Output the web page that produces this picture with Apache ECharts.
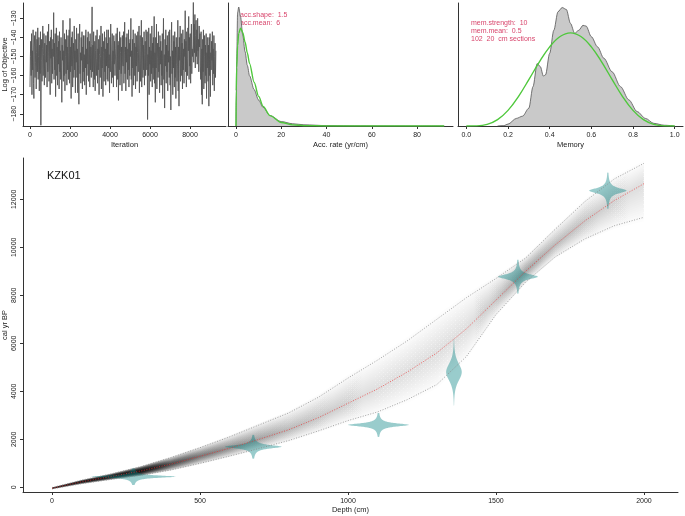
<!DOCTYPE html>
<html><head><meta charset="utf-8">
<script src="https://cdn.jsdelivr.net/npm/echarts@6/dist/echarts.min.js"></script>
<style>html,body{margin:0;padding:0;background:#fff}#c{width:685px;height:516px}</style>
</head><body><div id="c"></div>
<script>
// ---------- data ----------
const iterTicks = [0, 2000, 4000, 6000, 8000];
const objTicks = [-180, -170, -160, -150, -140, -130];
const traceStep = 19.4;
const trace = [
-166,-150,-142,-160,-138,-170,-147,-157,-136,-164,-172,-145,-139,-161,-153,-137,-167,-148,-141,-158,
-135,-162,-150,-140,-168,-144,-159,-137,-186,-152,-141,-163,-146,-134,-160,-149,-138,-165,-143,-156,
-161,-139,-153,-144,-166,-137,-158,-148,-133,-163,-142,-155,-170,-140,-151,-136,-164,-146,-159,-141,
-150,-127,-162,-143,-157,-138,-171,-149,-135,-160,-145,-165,-139,-154,-142,-167,-137,-158,-147,-162,
-140,-156,-174,-144,-152,-131,-163,-147,-160,-138,-168,-150,-141,-159,-136,-165,-145,-157,-139,-162,
-148,-136,-164,-130,-158,-145,-172,-140,-155,-137,-166,-149,-143,-161,-134,-157,-147,-169,-141,-153,
-135,-161,-146,-169,-138,-156,-175,-143,-133,-159,-148,-164,-140,-152,-137,-167,-145,-158,-139,-163,
-149,-165,-139,-156,-136,-170,-146,-160,-140,-154,-137,-163,-150,-142,-166,-138,-157,-145,-161,-143,
-124,-158,-144,-166,-137,-153,-162,-142,-168,-147,-139,-160,-151,-136,-164,-146,-157,-141,-170,-149,
-139,-161,-150,-134,-167,-145,-156,-138,-171,-148,-142,-163,-137,-158,-146,-165,-140,-155,-136,-162,
-143,-163,-136,-156,-149,-169,-140,-158,-133,-152,-164,-145,-138,-161,-147,-166,-139,-154,-142,-160,
-161,-146,-138,-166,-150,-135,-162,-144,-173,-142,-157,-137,-165,-148,-140,-159,-145,-168,-139,-153,
-155,-137,-164,-148,-132,-159,-145,-168,-140,-153,-138,-162,-146,-157,-136,-166,-143,-160,-141,-150,
-130,-162,-147,-171,-141,-156,-136,-165,-150,-143,-160,-138,-167,-145,-155,-139,-163,-148,-137,-158,
-158,-134,-169,-146,-139,-163,-152,-131,-166,-148,-140,-161,-144,-157,-137,-165,-149,-142,-160,-136,
-141,-157,-137,-183,-149,-160,-135,-170,-145,-154,-138,-163,-147,-159,-134,-166,-143,-156,-140,-162,
-129,-164,-148,-174,-140,-156,-133,-167,-151,-143,-161,-137,-158,-145,-169,-139,-154,-142,-165,-147,
-160,-138,-172,-146,-130,-162,-149,-177,-141,-155,-136,-164,-144,-158,-139,-168,-147,-153,-137,-161,
-136,-165,-150,-178,-143,-132,-159,-147,-170,-139,-156,-142,-166,-137,-161,-145,-172,-140,-154,-163,
-155,-131,-168,-145,-176,-140,-152,-134,-163,-148,-138,-160,-143,-167,-136,-157,-146,-164,-141,-150,
-126,-158,-142,-166,-137,-151,-160,-135,-147,-129,-162,-140,-155,-138,-164,-144,-133,-159,-146,-150,
-144,-121,-153,-133,-148,-128,-156,-139,-131,-150,-136,-154,-130,-147,-141,-158,-134,-145,-138,-155,
-162,-137,-170,-146,-175,-141,-158,-136,-167,-150,-139,-164,-144,-160,-138,-172,-148,-156,-140,-163,
-144,-176,-140,-160,-138,-171,-148,-157,-142,-152,-137,-165,-146,-159,-139,-168,-150,-143,-161,-147
];

const accTicks = [0, 20, 40, 60, 80];
const accX     = [0, 0.1, 0.3, 0.7, 1.2, 2, 3, 4, 5, 6, 8, 10, 12, 15, 20, 25, 30, 40, 50, 60, 70, 80, 92];
const accPost  = [0, 0.03, 0.08, 0.14, 0.147, 0.135, 0.112, 0.092, 0.075, 0.062, 0.045, 0.032, 0.023, 0.013, 0.0055, 0.0028, 0.0015, 0.0005, 0.0002, 0.0001, 0.00005, 0.00002, 0];
const accPrior = [0, 0.0435, 0.0717, 0.0991, 0.1145, 0.121, 0.1154, 0.1038, 0.0904, 0.0771, 0.054, 0.0366, 0.0243, 0.0128, 0.0043, 0.0014, 0.0004, 0.00004, 0, 0, 0, 0, 0];

const memTicks = [0, 0.2, 0.4, 0.6, 0.8, 1.0];
const memX    = [0.15,0.18,0.2,0.24,0.27,0.3,0.32,0.34,0.355,0.37,0.38,0.4,0.42,0.44,0.46,0.48,0.5,0.52,0.54,0.56,0.575,0.6,0.63,0.66,0.7,0.74,0.78,0.82,0.86,0.9,0.95,1.0];
const memPost = [0,0.01,0.05,0.2,0.26,0.47,1.04,1.65,1.57,1.32,1.35,1.92,2.53,3.02,3.13,3.08,2.71,2.45,2.53,2.66,2.64,2.36,2.09,1.79,1.43,1.04,0.69,0.38,0.2,0.07,0.02,0];
const memPriorX = [0,0.05,0.1,0.15,0.2,0.25,0.3,0.35,0.4,0.45,0.5,0.55,0.6,0.65,0.7,0.75,0.8,0.85,0.9,0.95,1.0];
const memPrior  = [0,0.0032,0.0413,0.1665,0.4129,0.7787,1.2252,1.687,2.09,2.364,2.461,2.364,2.09,1.687,1.2252,0.7787,0.4129,0.1665,0.0413,0.0032,0];

const depthTicks = [0, 500, 1000, 1500, 2000];
const ageTicks = [0, 2000, 4000, 6000, 8000, 10000, 12000];
const depths    = [0,100,200,300,400,500,600,700,800,900,1000,1100,1200,1300,1400,1500,1600,1700,1800,1900,2000];
const ageMedian = [-40,230,450,680,960,1290,1630,2000,2400,2900,3500,4100,4800,5600,6600,7800,9000,10100,11100,11950,12650];
const ageLow    = [-70,150,330,500,720,1000,1300,1620,1950,2350,2780,3140,3650,4280,5450,7200,8550,9600,10350,10900,11250];
const ageHigh   = [-10,300,560,860,1230,1650,2100,2600,3100,3750,4550,5300,6100,7000,7900,8700,9550,10750,11900,12850,13500];

const dateDepth = [275, 680, 1103, 1358, 1574, 1878];
const dateAge   = [445, 1690, 2600, 4800, 8775, 12360];
const dateSigma = [59, 88, 82, 380, 125, 133];
const dateNu    = [1, 1, 1, 5, 1, 1];
const dateTail  = [350, 500, 500, 1400, 710, 760];
const dateArea  = 26400;

// ---------- helpers ----------
const tConst = {1: 0.31831, 2: 0.35355, 3: 0.36755, 4: 0.375, 5: 0.37961};
const FONT = 'Liberation Sans, Arial, sans-serif';
const lbl = {fontSize: 7, color: '#222', fontFamily: FONT};
const axLine = {show: true, onZero: false, lineStyle: {color: '#333', width: 1}};
const plain = v => String(v);
const minus = v => (v < 0 ? '\u2212' : '') + Math.abs(v);

const NLEV = 16;
const levels = [];
for (let j = 1; j <= NLEV; j++) levels.push([j]);

function bandItem(params, api) {
  const frac = 1.12 * (params.dataIndex + 1) / NLEV;
  const up = [], lo = [];
  const stops = [];
  const x0 = api.coord([depths[0], 0])[0];
  const x1 = api.coord([depths[depths.length - 1], 0])[0];
  for (let i = 0; i < depths.length; i++) {
    const d = depths[i];
    const hiA = ageMedian[i] + frac * (ageHigh[i] - ageMedian[i]);
    const loA = ageMedian[i] - frac * (ageMedian[i] - ageLow[i]);
    up.push(api.coord([d, hiA]));
    lo.push(api.coord([d, loA]));
    const wpx = Math.abs(api.coord([d, ageHigh[i]])[1] - api.coord([d, ageLow[i]])[1]);
    const D = Math.min(0.93, Math.pow(9 / Math.max(wpx, 1), 1.1));
    const a = 1 - Math.pow(1 - D, 1 / NLEV);
    stops.push({offset: (up[i][0] - x0) / (x1 - x0), color: 'rgba(0,0,0,' + a.toFixed(4) + ')'});
  }
  const pts = up.concat(lo.reverse());
  return {
    type: 'polygon',
    shape: {points: pts},
    style: {fill: {type: 'linear', x: x0, y: 0, x2: x1, y2: 0, global: true, colorStops: stops}, stroke: null}
  };
}

function dateItem(params, api) {
  const k = params.dataIndex;
  const d = dateDepth[k], mu = dateAge[k], s = dateSigma[k], nu = dateNu[k], ext = dateTail[k];
  const M = 160;
  const right = [], left = [];
  for (let m = 0; m <= M; m++) {
    const a = mu - ext + 2 * ext * m / M;
    const x = (a - mu) / s;
    let w = dateArea * tConst[nu] * Math.pow(1 + x * x / nu, -(nu + 1) / 2) / s;
    if (m === 0 || m === M) w = 0;
    right.push(api.coord([d + w, a]));
    left.push(api.coord([d - w, a]));
  }
  return {
    type: 'polygon',
    shape: {points: right.concat(left.reverse())},
    style: {fill: 'rgba(0,128,128,0.40)', stroke: null}
  };
}

function gridAt(left, top, width, height) {
  return {left: left, top: top, width: width, height: height, containLabel: false, outerBoundsMode: 'none'};
}
function nameStyle() { return {fontSize: 7.5, color: '#222', fontFamily: FONT}; }

// ---------- chart ----------
const chart = echarts.init(document.getElementById('c'), null, {renderer: 'canvas'});
chart.setOption({
  animation: false,
  backgroundColor: '#fff',
  grid: [
    gridAt(23, 3, 203, 123),
    gridAt(228, 3, 225, 123),
    gridAt(458, 3, 225, 123),
    gridAt(23, 158, 655, 334)
  ],
  xAxis: [
    {gridIndex: 0, type: 'value', min: -350, max: 9800, axisLine: axLine,
     axisTick: {show: true, length: 3, customValues: iterTicks, lineStyle: {color: '#333'}},
     axisLabel: Object.assign({customValues: iterTicks, margin: 6, formatter: plain}, lbl), splitLine: {show: false},
     name: 'Iteration', nameLocation: 'middle', nameGap: 15, nameMoveOverlap: false, nameTextStyle: nameStyle()},
    {gridIndex: 1, type: 'value', min: -3.54, max: 95.9, axisLine: axLine,
     axisTick: {show: true, length: 3, customValues: accTicks, lineStyle: {color: '#333'}},
     axisLabel: Object.assign({customValues: accTicks, margin: 6, formatter: plain}, lbl), splitLine: {show: false},
     name: 'Acc. rate (yr/cm)', nameLocation: 'middle', nameGap: 15, nameMoveOverlap: false, nameTextStyle: nameStyle()},
    {gridIndex: 2, type: 'value', min: -0.04, max: 1.04, axisLine: axLine,
     axisTick: {show: true, length: 3, customValues: memTicks, lineStyle: {color: '#333'}},
     axisLabel: Object.assign({customValues: memTicks, margin: 6, formatter: v => (+v).toFixed(1)}, lbl), splitLine: {show: false},
     name: 'Memory', nameLocation: 'middle', nameGap: 15, nameMoveOverlap: false, nameTextStyle: nameStyle()},
    {gridIndex: 3, type: 'value', min: -98, max: 2115, axisLine: axLine,
     axisTick: {show: true, length: 3, customValues: depthTicks, lineStyle: {color: '#333'}},
     axisLabel: Object.assign({customValues: depthTicks, margin: 6, formatter: plain}, lbl), splitLine: {show: false},
     name: 'Depth (cm)', nameLocation: 'middle', nameGap: 14, nameMoveOverlap: false, nameTextStyle: nameStyle()}
  ],
  yAxis: [
    {gridIndex: 0, type: 'value', min: -186.4, max: -121.96, axisLine: axLine,
     axisTick: {show: true, length: 3, customValues: objTicks, lineStyle: {color: '#333'}},
     axisLabel: Object.assign({customValues: objTicks, rotate: 90, margin: 5, formatter: minus}, lbl), splitLine: {show: false},
     name: 'Log of Objective', nameLocation: 'middle', nameGap: 14, nameRotate: 90, nameMoveOverlap: false, nameTextStyle: nameStyle()},
    {gridIndex: 1, type: 'value', min: 0, max: 0.152, axisLine: axLine, axisTick: {show: false}, axisLabel: {show: false}, splitLine: {show: false}},
    {gridIndex: 2, type: 'value', min: 0, max: 3.25, axisLine: axLine, axisTick: {show: false}, axisLabel: {show: false}, splitLine: {show: false}},
    {gridIndex: 3, type: 'value', min: -196, max: 13721, axisLine: axLine,
     axisTick: {show: true, length: 3, customValues: ageTicks, lineStyle: {color: '#333'}},
     axisLabel: Object.assign({customValues: ageTicks, rotate: 90, margin: 5, formatter: plain}, lbl), splitLine: {show: false},
     name: 'cal yr BP', nameLocation: 'middle', nameGap: 14, nameRotate: 90, nameMoveOverlap: false, nameTextStyle: nameStyle()}
  ],
  graphic: [
    {type: 'text', left: 47, top: 170, style: {text: 'KZK01', font: '11px ' + FONT, fill: '#111'}},
    {type: 'text', left: 240, top: 11, style: {text: 'acc.shape:  1.5\nacc.mean:  6', font: '7px ' + FONT, fill: '#d8456c', lineHeight: 8}},
    {type: 'text', left: 471, top: 19, style: {text: 'mem.strength:  10\nmem.mean:  0.5\n102  20  cm sections', font: '7px ' + FONT, fill: '#d8456c', lineHeight: 8}}
  ],
  series: [
    {type: 'line', xAxisIndex: 0, yAxisIndex: 0, showSymbol: false, silent: true,
     data: trace.map((v, i) => [i * traceStep, v]), lineStyle: {color: '#555', width: 0.9}},
    {type: 'line', xAxisIndex: 1, yAxisIndex: 1, showSymbol: false, silent: true, smooth: 0.3, smoothMonotone: 'x',
     data: accX.map((x, i) => [x, accPost[i]]), lineStyle: {color: '#555', width: 0.8}, areaStyle: {color: '#c9c9c9', opacity: 1}},
    {type: 'line', xAxisIndex: 1, yAxisIndex: 1, showSymbol: false, silent: true, smooth: 0.3, smoothMonotone: 'x',
     data: accX.map((x, i) => [x, accPrior[i]]), lineStyle: {color: '#4fc83c', width: 1.4}},
    {type: 'line', xAxisIndex: 2, yAxisIndex: 2, showSymbol: false, silent: true, smooth: 0.3, smoothMonotone: 'x',
     data: memX.map((x, i) => [x, memPost[i]]), lineStyle: {color: '#555', width: 0.8}, areaStyle: {color: '#c9c9c9', opacity: 1}},
    {type: 'line', xAxisIndex: 2, yAxisIndex: 2, showSymbol: false, silent: true, smooth: 0.4,
     data: memPriorX.map((x, i) => [x, memPrior[i]]), lineStyle: {color: '#4fc83c', width: 1.4}},
    {type: 'custom', xAxisIndex: 3, yAxisIndex: 3, silent: true, renderItem: bandItem, data: levels, clip: true},
    {type: 'custom', xAxisIndex: 3, yAxisIndex: 3, silent: true, renderItem: dateItem, data: dateDepth.map((d, k) => [d, dateAge[k]]), z: 3},
    {type: 'line', xAxisIndex: 3, yAxisIndex: 3, showSymbol: false, silent: true, z: 4,
     data: depths.map((d, i) => [d, ageLow[i]]), lineStyle: {color: '#8a8a8a', width: 0.8, type: [1, 1.6]}},
    {type: 'line', xAxisIndex: 3, yAxisIndex: 3, showSymbol: false, silent: true, z: 4,
     data: depths.map((d, i) => [d, ageHigh[i]]), lineStyle: {color: '#8a8a8a', width: 0.8, type: [1, 1.6]}},
    {type: 'line', xAxisIndex: 3, yAxisIndex: 3, showSymbol: false, silent: true, z: 4,
     data: depths.map((d, i) => [d, ageMedian[i]]), lineStyle: {color: 'rgba(235,50,50,0.8)', width: 0.9, type: [1, 1.6]}}
  ]
});
</script></body></html>
